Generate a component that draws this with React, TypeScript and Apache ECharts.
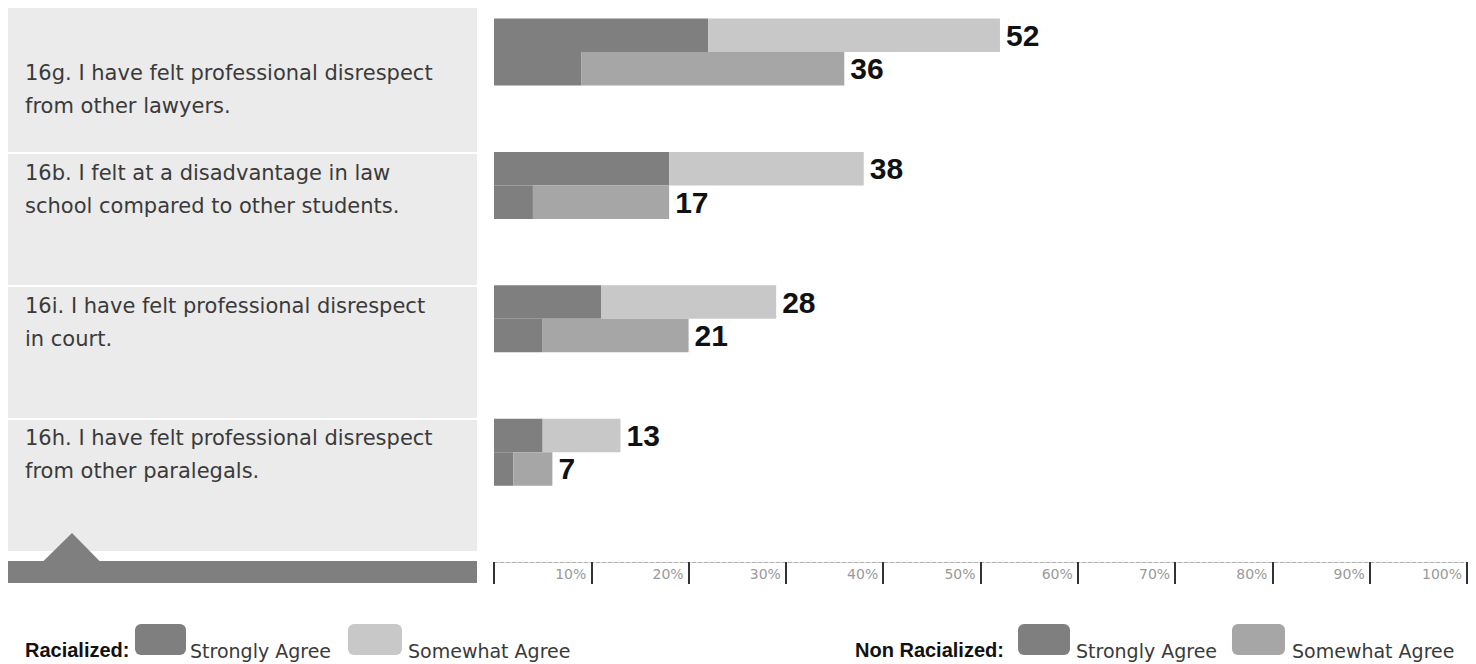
import React, { useEffect, useRef } from "react";
import * as echarts from "echarts";

// ---- data ----
const categories = [
  "16g. I have felt professional disrespect\nfrom other lawyers.",
  "16b. I felt at a disadvantage in law\nschool compared to other students.",
  "16i. I have felt professional disrespect\nin court.",
  "16h. I have felt professional disrespect\nfrom other paralegals.",
];
const racStrong = [22, 18, 11, 5];
const racSomewhat = [30, 20, 18, 8];
const nonStrong = [9, 4, 5, 2];
const nonSomewhat = [27, 14, 15, 4];
const racTotals = [52, 38, 28, 13];
const nonTotals = [36, 17, 21, 7];
const axisMin = 0;
const axisMax = 100;
const axisStep = 10;

// ---- style / layout ----
const DARK = "#7f7f7f";
const LIGHT_R = "#c8c8c8";
const LIGHT_NR = "#a6a6a6";
const PANEL = "#ebebeb";
const TEXT = "#3a3a3a";
const panelTops = [8, 154, 287, 420];
const panelBottoms = [152, 285, 418, 551];
const firstLineY = [73, 173, 306, 438];
const LINE_GAP = 33;

export default function App() {
  const ref = useRef<HTMLDivElement>(null);
  useEffect(() => {
    document.body.style.margin = "0";
    const chart = echarts.init(ref.current!, null, { renderer: "svg" });
    const GRID_LEFT = 494;
    const GRID_RIGHT = 9;
    const BAND = 133.4;
    const FIRST_CENTER = 52;
    const gridTop = FIRST_CENTER - BAND / 2;
    const gridHeight = BAND * categories.length;
    const axisY = 562;
    const xOffset = axisY - (gridTop + gridHeight);

    const valueLabel = (totals: number[]) => ({
      show: true,
      position: "right" as const,
      distance: 6,
      formatter: (p: any) => String(totals[p.dataIndex]),
      fontFamily: "'Liberation Sans Narrow', 'Liberation Sans', Arial, sans-serif",
      fontWeight: "bold" as const,
      fontSize: 30,
      color: "#111",
    });

    const graphics: any[] = [];
    categories.forEach((c, i) => {
      graphics.push({
        type: "rect",
        shape: { x: 8, y: panelTops[i], width: 469, height: panelBottoms[i] - panelTops[i] },
        style: { fill: PANEL },
        silent: true,
      });
      c.split("\n").forEach((line, j) => {
        graphics.push({
          type: "text",
          x: 25,
          y: firstLineY[i] + j * LINE_GAP,
          style: {
            text: line,
            font: "21px 'DejaVu Sans', sans-serif",
            fill: TEXT,
            verticalAlign: "middle",
            align: "left",
          },
          silent: true,
        });
      });
    });
    // bottom band with pointer
    graphics.push({
      type: "rect",
      shape: { x: 8, y: 561, width: 469, height: 22 },
      style: { fill: DARK },
      silent: true,
    });
    graphics.push({
      type: "polygon",
      shape: { points: [[43, 561.5], [72, 533], [100, 561.5]] },
      style: { fill: DARK },
      silent: true,
    });

    // legend
    const legendText = (text: string, x: number, bold = false) => ({
      type: "text",
      x,
      y: bold ? 650 : 651,
      style: {
        text,
        font: bold
          ? "bold 20px 'Liberation Sans', Arial, sans-serif"
          : "19px 'DejaVu Sans', sans-serif",
        fill: bold ? "#111" : TEXT,
        verticalAlign: "middle",
        align: "left",
      },
      silent: true,
    });
    const swatch = (x: number, w: number, color: string) => ({
      type: "rect",
      shape: { x, y: 624, width: w, height: 31, r: 6 },
      style: { fill: color },
      silent: true,
    });
    graphics.push(legendText("Racialized:", 25, true));
    graphics.push(swatch(135, 51, DARK));
    graphics.push(legendText("Strongly Agree", 190));
    graphics.push(swatch(348, 54, LIGHT_R));
    graphics.push(legendText("Somewhat Agree", 408));
    graphics.push(legendText("Non Racialized:", 855, true));
    graphics.push(swatch(1018, 52, DARK));
    graphics.push(legendText("Strongly Agree", 1076));
    graphics.push(swatch(1232, 53, LIGHT_NR));
    graphics.push(legendText("Somewhat Agree", 1292));

    chart.setOption({
      animation: false,
      backgroundColor: "#ffffff",
      grid: {
        left: GRID_LEFT,
        right: GRID_RIGHT,
        top: gridTop,
        height: gridHeight,
        containLabel: false,
        outerBoundsMode: "none",
      },
      xAxis: {
        type: "value",
        min: axisMin,
        max: axisMax,
        interval: axisStep,
        position: "bottom",
        offset: xOffset,
        axisLine: {
          show: true,
          lineStyle: { color: "#b0b0b0", type: "dashed", width: 1 },
        },
        axisTick: {
          show: true,
          length: 22,
          lineStyle: { color: "#333", width: 2 },
        },
        axisLabel: {
          show: true,
          formatter: (v: number) => (v === 0 ? "" : v + "%"),
          align: "right",
          padding: [0, 5, 0, 0],
          margin: 4,
          fontFamily: "'DejaVu Sans', sans-serif",
          fontSize: 14,
          lineHeight: 15,
          color: "#999999",
        },
        splitLine: { show: false },
      },
      yAxis: {
        type: "category",
        data: categories,
        inverse: true,
        axisLine: { show: false },
        axisTick: { show: false },
        axisLabel: { show: false },
        splitLine: { show: false },
      },
      series: [
        {
          name: "Racialized Strongly Agree",
          type: "bar",
          stack: "rac",
          data: racStrong,
          barWidth: 33.5,
          barGap: "0%",
          itemStyle: { color: DARK },
        },
        {
          name: "Racialized Somewhat Agree",
          type: "bar",
          stack: "rac",
          data: racSomewhat,
          barWidth: 33.5,
          barGap: "0%",
          itemStyle: { color: LIGHT_R },
          label: valueLabel(racTotals),
        },
        {
          name: "Non Racialized Strongly Agree",
          type: "bar",
          stack: "non",
          data: nonStrong,
          barWidth: 33.5,
          barGap: "0%",
          itemStyle: { color: DARK },
        },
        {
          name: "Non Racialized Somewhat Agree",
          type: "bar",
          stack: "non",
          data: nonSomewhat,
          barWidth: 33.5,
          barGap: "0%",
          itemStyle: { color: LIGHT_NR },
          label: valueLabel(nonTotals),
        },
      ],
      graphic: graphics,
    });
    return () => chart.dispose();
  }, []);
  return <div ref={ref} style={{ width: 1476, height: 664 }} />;
}
